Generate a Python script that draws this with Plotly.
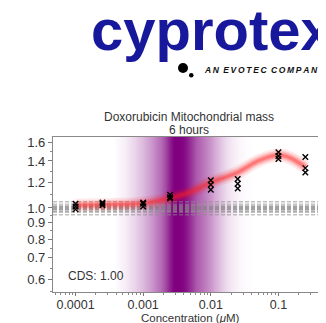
import plotly.graph_objects as go
import math

# ---------------- data ----------------
conc = [0.0001, 0.00025, 0.001, 0.0025, 0.01, 0.025, 0.1, 0.25]
rep1 = [0.99, 1.02, 1.01, 1.07, 1.14, 1.15, 1.42, 1.29]
rep2 = [1.01, 1.03, 1.03, 1.08, 1.18, 1.19, 1.45, 1.33]
rep3 = [1.03, 1.04, 1.04, 1.10, 1.22, 1.23, 1.49, 1.44]

fit_conc = [1e-4, 3e-4, 1e-3, 2e-3, 3e-3, 5e-3, 1e-2, 2.5e-2, 5e-2, 1e-1, 1.5e-1, 2.5e-1]
fit_resp = [1.02, 1.025, 1.035, 1.06, 1.085, 1.12, 1.20, 1.29, 1.40, 1.46, 1.43, 1.34]

ac50_conc = [3.5e-4, 4.5e-4, 5.3e-4, 6.2e-4, 7.2e-4, 8.4e-4, 9.8e-4, 1.14e-3, 1.33e-3, 1.55e-3,
             1.8e-3, 2.1e-3, 2.45e-3, 2.85e-3, 3.3e-3, 3.9e-3, 4.5e-3, 5.3e-3,
             6.2e-3, 7.2e-3, 8.4e-3, 9.8e-3, 1.14e-2, 1.33e-2, 1.55e-2, 1.8e-2,
             2.1e-2, 2.45e-2, 2.85e-2, 3.3e-2, 3.9e-2, 4.5e-2, 5.5e-2]
ac50_density = [0.0, 0.04, 0.07, 0.11, 0.16, 0.21, 0.27, 0.34, 0.41, 0.49,
                0.58, 0.69, 0.88, 1.0, 1.0, 0.97, 0.88, 0.75,
                0.64, 0.57, 0.50, 0.42, 0.33, 0.25, 0.18, 0.12,
                0.08, 0.05, 0.03, 0.015, 0.005, 0.0, 0.0]

ctrl_mean = 1.0
ctrl_lines = [1.045, 0.972, 0.952]

x_range = [4.64e-5, 0.472]
y_range = [0.548, 1.662]

x_tickvals = [1e-4, 1e-3, 1e-2, 1e-1]
x_ticktext = ["0.0001", "0.001", "0.01", "0.1"]
y_tickvals = [0.6, 0.7, 0.8, 0.9, 1.0, 1.2, 1.4, 1.6]
y_ticktext = ["0.6", "0.7", "0.8", "0.9", "1.0", "1.2", "1.4", "1.6"]
y_minor = [0.55, 0.65, 0.75, 0.85, 0.95, 1.1, 1.3, 1.5]

title_line1 = "Doxorubicin Mitochondrial mass"
title_line2 = "6 hours"
x_label = "Concentration (<i>μ</i>M)"
cds_text = "CDS: 1.00"
logo_text = "cyprotex"
logo_sub = "AN EVOTEC COMPANY"

# ---------------- figure ----------------
OFF = 8  # default page body margin
W, H = 326 - OFF, 323 - OFF
ML, MR, MT, MB = 53 - OFF, 2, 137 - OFF, 31
fig = go.Figure()

TXT = "#333333"
FONT = "Liberation Sans"

# AC50 distribution band (smooth gradient)
fig.add_trace(go.Heatmap(x=ac50_conc, y=y_range, z=[ac50_density, ac50_density],
                         colorscale=[[0, "rgba(128,0,128,0)"], [1, "rgba(128,0,128,1)"]],
                         zmin=0, zmax=1, zsmooth="best", showscale=False, hoverinfo="skip"))

# control band
for w, c in [(9, "rgba(150,150,150,0.55)"), (4, "rgba(120,120,120,0.45)")]:
    fig.add_trace(go.Scatter(x=x_range, y=[ctrl_mean, ctrl_mean], mode="lines",
                             line=dict(color=c, width=w, dash="4px,2px"), hoverinfo="skip"))
for v in ctrl_lines:
    fig.add_trace(go.Scatter(x=x_range, y=[v, v], mode="lines",
                             line=dict(color="rgba(140,140,140,0.8)", width=1, dash="4px,2px"),
                             hoverinfo="skip"))

# red fit glow
for w, a in [(13, 0.10), (9, 0.15), (6, 0.22), (3, 0.33)]:
    fig.add_trace(go.Scatter(x=fit_conc, y=fit_resp, mode="lines",
                             line=dict(color=f"rgba(255,30,30,{a})", width=w, shape="spline"),
                             hoverinfo="skip"))

# replicate markers
for rep in (rep1, rep2, rep3):
    fig.add_trace(go.Scatter(x=conc, y=rep, mode="markers",
                             marker=dict(symbol="x-thin", size=5.5, color="black",
                                         line=dict(color="black", width=1.4))))


# page pixel -> paper coords
def px(p):
    return (p - OFF - ML) / (W - ML - MR)


def py(q):
    return (H - MB - (q - OFF)) / (H - MT - MB)


shapes = [
    dict(type="circle", xref="paper", yref="paper", x0=px(178), x1=px(188), y0=py(73), y1=py(63),
         fillcolor="black", line=dict(width=0)),
    dict(type="circle", xref="paper", yref="paper", x0=px(189), x1=px(193.5), y0=py(77.5), y1=py(73),
         fillcolor="black", line=dict(width=0)),
]

sub_words = logo_sub.split(" ")
sub_html = "\u2002".join("\u2009".join(list(wd)) for wd in sub_words)

annotations = [
    dict(text=title_line1, x=0.5, y=py(116.7), xref="paper", yref="paper", showarrow=False,
         xanchor="center", yanchor="middle", font=dict(family=FONT, size=12, color=TXT)),
    dict(text=title_line2, x=0.5, y=py(129.5), xref="paper", yref="paper", showarrow=False,
         xanchor="center", yanchor="middle", font=dict(family=FONT, size=12, color=TXT)),
    dict(text=x_label, x=px(190), y=py(317.5), xref="paper", yref="paper", showarrow=False,
         xanchor="center", yanchor="middle", font=dict(family=FONT, size=11.5, color=TXT)),
    dict(text=cds_text, x=px(66), y=py(276), xref="paper", yref="paper", showarrow=False,
         xanchor="left", yanchor="middle", font=dict(family=FONT, size=12, color=TXT)),
    dict(text=logo_text, x=px(89), y=py(30), xref="paper", yref="paper", showarrow=False,
         xanchor="left", yanchor="middle", font=dict(family=FONT, size=58, color="#18189c", weight="bold")),
    dict(text="<i><b>" + sub_html + "</b></i>",
         x=px(202), y=py(70), xref="paper", yref="paper", showarrow=False,
         xanchor="left", yanchor="middle", font=dict(family=FONT, size=8.5, color="#111111")),
]

x_minor = [m * 10 ** e for e in range(-5, 0) for m in range(2, 10)]

fig.update_layout(
    width=W, height=H, margin=dict(l=ML, r=MR, t=MT, b=MB, pad=0),
    paper_bgcolor="white", plot_bgcolor="white",
    shapes=shapes, annotations=annotations, showlegend=False,
    xaxis=dict(type="log", range=[math.log10(x_range[0]), math.log10(x_range[1])], tickmode="array",
               tickvals=x_tickvals, ticktext=x_ticktext, ticks="outside", ticklen=3, tickcolor="#777",
               tickwidth=1, ticklabelstandoff=-2,
               showline=True, linecolor="#888", linewidth=1.2, mirror=True, showgrid=False, zeroline=False,
               tickfont=dict(family=FONT, size=12.5, color=TXT),
               minor=dict(tickmode="array", tickvals=x_minor, ticks="outside", ticklen=2,
                          tickcolor="#888", tickwidth=1, showgrid=False)),
    yaxis=dict(type="log", range=[math.log10(y_range[0]), math.log10(y_range[1])], tickmode="array",
               tickvals=y_tickvals, ticktext=y_ticktext, ticks="outside", ticklen=4, tickcolor="#777",
               tickwidth=1,
               showline=True, linecolor="#888", linewidth=1.2, mirror=True, showgrid=False, zeroline=False,
               tickfont=dict(family=FONT, size=13, color=TXT),
               minor=dict(tickmode="array", tickvals=y_minor, ticks="outside", ticklen=2,
                          tickcolor="#888", tickwidth=1, showgrid=False)),
)

fig.write_html("out.html")
